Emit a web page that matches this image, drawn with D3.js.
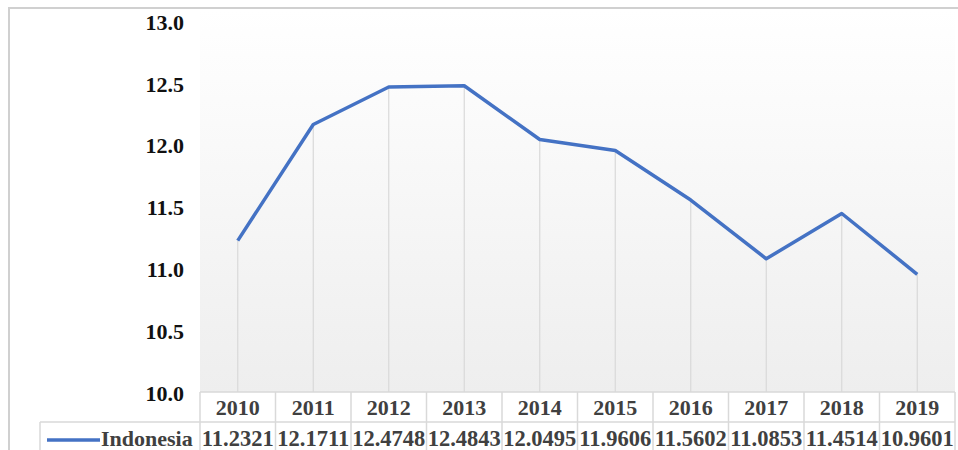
<!DOCTYPE html>
<html>
<head>
<meta charset="utf-8">
<script src="https://cdn.jsdelivr.net/npm/d3@7"></script>
<style>
	html, body { margin: 0; padding: 0; background: #fff; }
	svg { display: block; }
	text { font-family: "Liberation Serif", "Times New Roman", serif; font-weight: bold; }
</style>
</head>
<body>
<svg id="svg" width="958" height="450"></svg>
<script>
// chart data
var years = ['2010', '2011', '2012', '2013', '2014', '2015', '2016', '2017', '2018', '2019'];
var indonesia = [11.2321, 12.1711, 12.4748, 12.4843, 12.0495, 11.9606, 11.5602, 11.0853, 11.4514, 10.9601];
var yTicks = [10.0, 10.5, 11.0, 11.5, 12.0, 12.5, 13.0];
var seriesName = 'Indonesia';

var svg = d3.select('#svg'),
	plotLeft = 200,
	plotRight = 955,
	plotTop = 10,
	axisY = 392,
	rowH = 30,
	legendLeft = 40,
	lineColor = '#4472c4',
	gridColor = '#d9d9d9';

var x = d3.scaleBand()
	.domain(years)
	.range([plotLeft, plotRight]);

var y = d3.scaleLinear()
	.domain([10, 13])
	.range([axisY + 1, 22]);

// background gradient of plot area
var grad = svg.append('defs')
	.append('linearGradient')
	.attr('id', 'plotBg')
	.attr('x1', 0).attr('y1', 0)
	.attr('x2', 0).attr('y2', 1);
grad.append('stop').attr('offset', '0%').attr('stop-color', '#ffffff');
grad.append('stop').attr('offset', '100%').attr('stop-color', '#eeeeee');

svg.append('rect')
	.attr('x', plotLeft)
	.attr('y', plotTop)
	.attr('width', plotRight - plotLeft)
	.attr('height', axisY - plotTop)
	.attr('fill', 'url(#plotBg)');

// chart border (top and left)
svg.append('path')
	.attr('d', 'M9,450V8H958')
	.attr('fill', 'none')
	.attr('stroke', '#d0d0d0')
	.attr('stroke-width', 2);

// y axis labels
svg.append('g')
	.selectAll('text')
	.data(yTicks)
	.enter()
	.append('text')
	.attr('x', 184)
	.attr('y', function(d){ return y(d); })
	.attr('dy', '0.35em')
	.attr('text-anchor', 'end')
	.style('font-size', '22px')
	.style('fill', '#111')
	.text(function(d){ return d.toFixed(1); });

// drop lines from points to axis
svg.append('g')
	.selectAll('line')
	.data(indonesia)
	.enter()
	.append('line')
	.attr('x1', function(d, i){ return x(years[i]) + x.bandwidth() / 2; })
	.attr('x2', function(d, i){ return x(years[i]) + x.bandwidth() / 2; })
	.attr('y1', function(d){ return y(d); })
	.attr('y2', axisY)
	.style('stroke', gridColor)
	.style('stroke-width', 1.2);

// series line
var line = d3.line()
	.x(function(d, i){ return x(years[i]) + x.bandwidth() / 2; })
	.y(function(d){ return y(d); });

svg.append('path')
	.datum(indonesia)
	.attr('d', line)
	.attr('fill', 'none')
	.attr('stroke', lineColor)
	.attr('stroke-width', 3.5)
	.attr('stroke-linejoin', 'round');

// data table
var table = svg.append('g');

table.append('rect')
	.attr('x', plotLeft)
	.attr('y', axisY)
	.attr('width', plotRight - plotLeft)
	.attr('height', rowH)
	.attr('fill', '#fff');
table.append('rect')
	.attr('x', legendLeft)
	.attr('y', axisY + rowH)
	.attr('width', plotRight - legendLeft)
	.attr('height', rowH)
	.attr('fill', '#fff');

// horizontal table lines
table.append('line')
	.attr('x1', plotLeft).attr('x2', plotRight)
	.attr('y1', axisY).attr('y2', axisY)
	.style('stroke', gridColor).style('stroke-width', 1.5);
table.append('line')
	.attr('x1', legendLeft).attr('x2', plotRight)
	.attr('y1', axisY + rowH).attr('y2', axisY + rowH)
	.style('stroke', gridColor).style('stroke-width', 1.5);

// vertical table lines
table.selectAll('line.sep')
	.data(years.concat(['end']))
	.enter()
	.append('line')
	.attr('class', 'sep')
	.attr('x1', function(d, i){ return i < years.length ? x(d) : plotRight; })
	.attr('x2', function(d, i){ return i < years.length ? x(d) : plotRight; })
	.attr('y1', axisY)
	.attr('y2', 450)
	.style('stroke', gridColor)
	.style('stroke-width', 1.5);
table.append('line')
	.attr('x1', legendLeft).attr('x2', legendLeft)
	.attr('y1', axisY + rowH).attr('y2', 450)
	.style('stroke', gridColor).style('stroke-width', 1.5);

// header row: years
table.selectAll('text.year')
	.data(years)
	.enter()
	.append('text')
	.attr('class', 'year')
	.attr('x', function(d){ return x(d) + x.bandwidth() / 2; })
	.attr('y', axisY + 23)
	.attr('text-anchor', 'middle')
	.style('font-size', '22px')
	.style('fill', '#404040')
	.text(function(d){ return d; });

// legend key + series name
table.append('line')
	.attr('x1', 47).attr('x2', 100)
	.attr('y1', axisY + rowH + 18).attr('y2', axisY + rowH + 18)
	.style('stroke', lineColor)
	.style('stroke-width', 3.5);
table.append('text')
	.attr('x', 101)
	.attr('y', axisY + rowH + 24)
	.style('font-size', '22px')
	.style('fill', '#404040')
	.text(seriesName);

// values row
table.selectAll('text.val')
	.data(indonesia)
	.enter()
	.append('text')
	.attr('class', 'val')
	.attr('x', function(d, i){ return x(years[i]) + x.bandwidth() / 2; })
	.attr('y', axisY + rowH + 24)
	.attr('text-anchor', 'middle')
	.style('font-size', '22.5px')
	.style('fill', '#404040')
	.text(function(d){ return d.toFixed(4); });
</script>
</body>
</html>
